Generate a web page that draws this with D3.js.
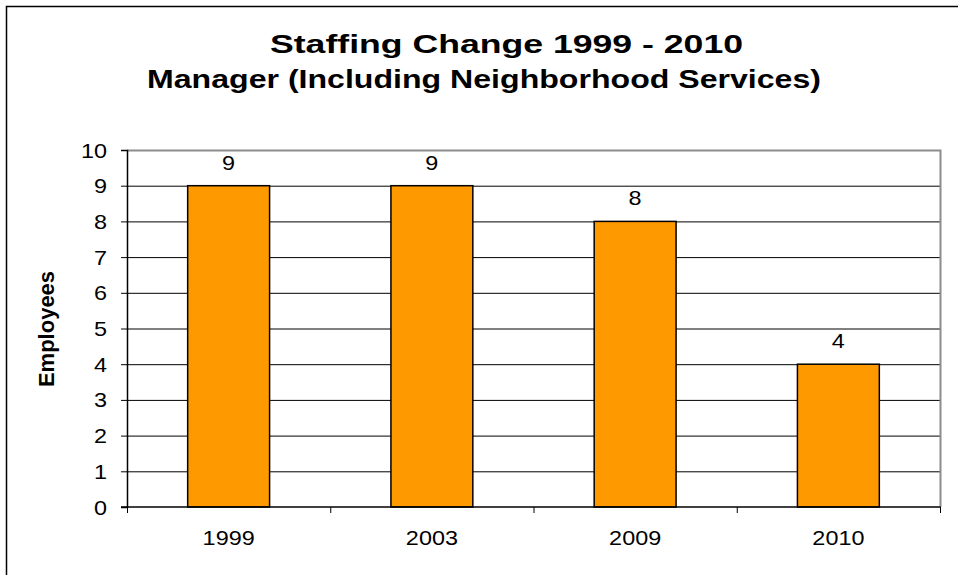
<!DOCTYPE html>
<html>
<head>
<meta charset="utf-8">
<script src="https://cdn.jsdelivr.net/npm/d3@7"></script>
<style>
  html, body { margin: 0; padding: 0; background: #fff; }
  svg { display: block; font-family: "Liberation Sans", Arial, sans-serif; }
</style>
</head>
<body>
<svg id="chart" width="958" height="575"></svg>
<script>
// Staffing figures by year
const years = ["1999", "2003", "2009", "2010"];
const employees = [9, 9, 8, 4];
const yTicks = [0, 1, 2, 3, 4, 5, 6, 7, 8, 9, 10];
const titleLines = ["Staffing Change 1999 - 2010", "Manager (Including Neighborhood Services)"];
const yTitle = "Employees";

const svg = d3.select("#chart");
const plot = { left: 127, right: 940, top: 150, bottom: 507 };
const stretch = 1.17;      // the chart's lettering is drawn slightly wide

// Title lines: start x, drawn length, baseline, font size
const titleStart = [270, 147];
const titleLength = [473, 674];
const titleBaseline = [53, 88];
const titleSize = [26, 25];

// Place text at (px, py), widened horizontally about its anchor point
function placeWide(sel, px, py, sx) {
  sel.attr("x", 0).attr("y", 0)
    .attr("transform", (d, i) => {
      const X = typeof px === "function" ? px(d, i) : px;
      const Y = typeof py === "function" ? py(d, i) : py;
      return `translate(${X},${Y}) scale(${sx},1)`;
    });
  return sel;
}

// Outer chart frame (runs past the right and bottom edges)
svg.append("rect")
  .attr("x", 6.5).attr("y", 6.5)
  .attr("width", 1100).attr("height", 1100)
  .attr("fill", "#fff").attr("stroke", "#000").attr("stroke-width", 1.5);

const x = d3.scaleBand()
  .domain(years)
  .range([plot.left, plot.right])
  .paddingInner(0.597)
  .paddingOuter(0.2985);

const xCat = d3.scaleBand().domain(years).range([plot.left, plot.right]);

const y = d3.scaleLinear().domain([0, 10]).range([plot.bottom, plot.top]);

// Horizontal gridlines
svg.append("g")
  .selectAll("line")
  .data(yTicks.filter(t => t > 0 && t < 10))
  .join("line")
  .attr("x1", plot.left).attr("x2", plot.right)
  .attr("y1", d => y(d) + 0.5).attr("y2", d => y(d) + 0.5)
  .attr("stroke", "#000").attr("stroke-width", 1);

// Plot area top and right edges
svg.append("path")
  .attr("d", `M${plot.left},${plot.top + 0.5}H${plot.right + 0.5}V${plot.bottom}`)
  .attr("fill", "none").attr("stroke", "#8c8c8c").attr("stroke-width", 2);

// Bars
svg.append("g")
  .selectAll("rect")
  .data(years)
  .join("rect")
  .attr("x", d => x(d))
  .attr("y", (d, i) => y(employees[i]))
  .attr("width", x.bandwidth())
  .attr("height", (d, i) => y(0) - y(employees[i]))
  .attr("fill", "#ff9900")
  .attr("stroke", "#000").attr("stroke-width", 1.5);

// Value labels
placeWide(
  svg.append("g")
    .selectAll("text")
    .data(years)
    .join("text")
    .attr("text-anchor", "middle")
    .attr("font-size", 20)
    .text((d, i) => employees[i]),
  d => x(d) + x.bandwidth() / 2,
  (d, i) => y(employees[i]) - 16,
  stretch
);

// Y axis
const yAxis = d3.axisLeft(y).tickValues(yTicks).tickSize(6).tickFormat(d3.format("d"));
const gy = svg.append("g").attr("transform", `translate(${plot.left},0)`).call(yAxis);
gy.select(".domain").attr("stroke", "#000").attr("stroke-width", 1.5);
gy.selectAll(".tick line").attr("stroke", "#000");
gy.selectAll(".tick text")
  .attr("font-size", 20)
  .attr("font-family", "Liberation Sans, Arial, sans-serif")
  .attr("fill", "#000")
  .attr("dy", "0.35em")
  .attr("x", 0)
  .attr("transform", `translate(-20,0) scale(${stretch},1)`);

// X axis baseline with category dividers
const gx = svg.append("g").attr("transform", `translate(0,${plot.bottom})`);
gx.append("line")
  .attr("x1", plot.left - 6).attr("x2", plot.right + 0.5)
  .attr("stroke", "#000").attr("stroke-width", 1.5);
gx.selectAll("line.div")
  .data(years.map(d => xCat(d)).concat([plot.right]))
  .join("line")
  .attr("class", "div")
  .attr("x1", d => d + 0.5).attr("x2", d => d + 0.5)
  .attr("y1", 0).attr("y2", 6)
  .attr("stroke", "#000");
placeWide(
  gx.selectAll("text")
    .data(years)
    .join("text")
    .attr("text-anchor", "middle")
    .attr("font-size", 20)
    .text(d => d),
  d => xCat(d) + xCat.bandwidth() / 2,
  38,
  stretch
);

// Y axis title
svg.append("text")
  .attr("transform", "translate(54,329) rotate(-90)")
  .attr("text-anchor", "middle")
  .attr("font-size", 22)
  .attr("font-weight", "bold")
  .text(yTitle);

// Chart title, two lines
svg.append("g")
  .selectAll("text")
  .data(titleLines)
  .join("text")
  .attr("x", (d, i) => titleStart[i])
  .attr("y", (d, i) => titleBaseline[i])
  .attr("textLength", (d, i) => titleLength[i])
  .attr("lengthAdjust", "spacingAndGlyphs")
  .attr("font-size", (d, i) => titleSize[i])
  .attr("font-weight", "bold")
  .text(d => d);
</script>
</body>
</html>
